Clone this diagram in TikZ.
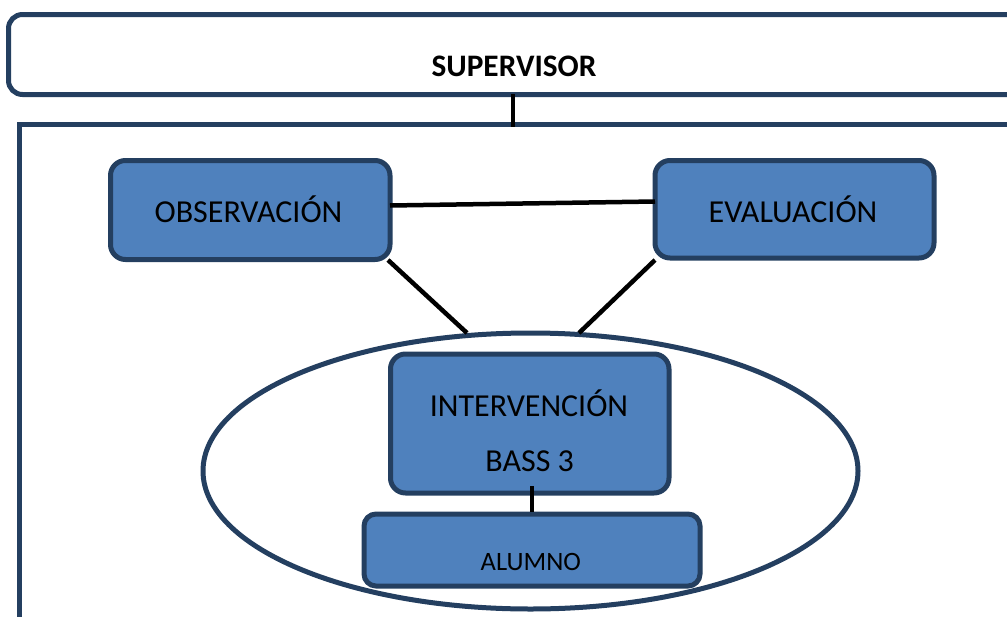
\documentclass[tikz,border=0pt]{standalone}
\usepackage{fontspec}
\setmainfont{Carlito}
\usetikzlibrary{shapes.geometric}
\definecolor{edge}{HTML}{243F60}
\definecolor{boxfill}{HTML}{4F81BD}
\begin{document}
\begin{tikzpicture}[x=1pt,y=-1pt,
  frame/.style={draw=edge,line width=5pt},
  bluebox/.style={draw=edge,line width=5pt,fill=boxfill,rounded corners=15pt,minimum width=#1},
  link/.style={draw=black,line width=4.5pt},
  lbl/.style={anchor=base,inner sep=0pt,font=\fontsize{32}{38}\selectfont},
  small/.style={anchor=base,inner sep=0pt,font=\fontsize{26.5}{31}\selectfont}]
\useasboundingbox (0,0) rectangle (1007,616);
\begin{scope}
\clip (0,0) rectangle (1007,616);
% supervisor frame
\draw[frame,rounded corners=14pt] (1030,14.5) -- (8.5,14.5) -- (8.5,94.5) -- (1030,94.5);
\node[lbl,font=\fontsize{31.3}{37}\selectfont\bfseries] (sup) at (514,76.5) {SUPERVISOR};
\coordinate (supb) at (513,94);
% big frame
\draw[frame] (1030,124.5) -- (19.5,124.5) -- (19.5,640);
\coordinate (bigt) at (513,127);
\draw[link] (supb) -- (bigt);
% ellipse
\node[draw=edge,line width=5pt,ellipse,minimum width=655pt,minimum height=276pt,inner sep=0pt] (ell) at (530.5,471) {};
% boxes
\node[bluebox=279.5pt,minimum height=99pt] (obs) at (250.25,210) {};
\node[lbl] (obst) at (248.5,222.7) {OBSERVACIÓN};
\node[bluebox=279pt,minimum height=97.5pt] (eval) at (794.5,209.25) {};
\node[lbl] (evalt) at (793,222.7) {EVALUACIÓN};
\node[bluebox=278.5pt,minimum height=139pt] (int) at (529.75,423.5) {};
\node[lbl] (intt1) at (529,416.7) {INTERVENCIÓN};
\node[lbl] (intt2) at (529.7,471.7) {BASS 3};
\node[bluebox=336pt,minimum height=72pt,rounded corners=12pt] (alu) at (532,550) {};
\node[small] (alut) at (530.8,570) {ALUMNO};
% connectors
\coordinate (oe) at (390,205.5);
\coordinate (ew) at (655,201.5);
\draw[link] (oe) -- (ew);
\coordinate (os) at (388,260);
\coordinate (elL) at (467,333);
\draw[link] (os) -- (elL);
\coordinate (es) at (655,260);
\coordinate (elR) at (579,333);
\draw[link] (es) -- (elR);
\coordinate (ib) at (532,486);
\coordinate (at) at (532,512);
\draw[link] (ib) -- (at);
\end{scope}
\end{tikzpicture}
\end{document}
